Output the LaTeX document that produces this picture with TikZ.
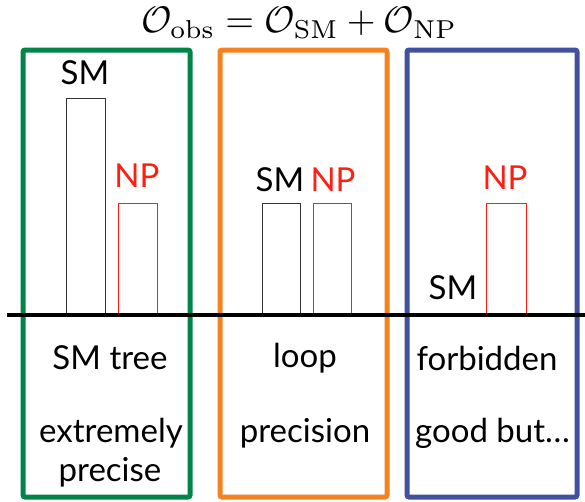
\documentclass[tikz,border=0pt]{standalone}
\usepackage{fontspec}
\setsansfont{Lato}
\usepackage{amsmath}
\definecolor{cgreen}{RGB}{0,132,72}
\definecolor{corange}{RGB}{245,130,32}
\definecolor{cblue}{RGB}{66,80,160}
\definecolor{cred}{RGB}{255,30,20}
\begin{document}
\begin{tikzpicture}[x=1pt,y=-1pt,
  frame/.style={line width=5pt,rounded corners=2pt},
  smbar/.style={draw=black!80,line width=1pt},
  npbar/.style={draw=cred,line width=1pt},
  lab/.style={font=\sffamily\fontsize{33}{36}\selectfont,inner sep=0pt},
  nplab/.style={lab,text=cred}]
\useasboundingbox (0,0) rectangle (585,501);
% frames
\draw[frame,cgreen] (23,50) rectangle (190,497);
\draw[frame,corange] (220,50) rectangle (387,497);
\draw[frame,cblue] (407,50) rectangle (577,497);
% bars
\draw[smbar] (66,315) |- (105,98) -- (105,315);
\draw[npbar] (118,315) |- (157,203) -- (157,315);
\draw[smbar] (262,315) |- (300,203) -- (300,315);
\draw[npbar] (313,315) |- (351,203) -- (351,315);
\draw[npbar] (486,315) |- (526,203) -- (526,315);
% baseline
\coordinate (bl) at (7,315);
\coordinate (br) at (585,315);
\draw[line width=4pt] (bl) -- (br);
% title
\node[scale=3.7,inner sep=0pt] (title) at (299,23) {$\mathcal{O}_{\mathrm{obs}}=\mathcal{O}_{\mathrm{SM}}+\mathcal{O}_{\mathrm{NP}}$};
% labels
\node[lab] (sm1) at (85,73) {SM};
\node[nplab] (np1) at (137,176) {NP};
\node[lab] (sm2) at (280,180) {SM};
\node[nplab] (np2) at (333,180) {NP};
\node[lab] (sm3) at (453,288) {SM};
\node[nplab] (np3) at (505,178) {NP};
\node[lab] (t1) at (110,358) {SM tree};
\node[lab] (t2) at (111,433) {extremely};
\node[lab] (t3) at (110,472) {precise};
\node[lab] (t4) at (305,358) {loop};
\node[lab] (t5) at (305,433) {precision};
\node[lab] (t6) at (487,358) {forbidden};
\node[lab,anchor=west] (t7) at (415,433) {good but\ldots};
\end{tikzpicture}
\end{document}
